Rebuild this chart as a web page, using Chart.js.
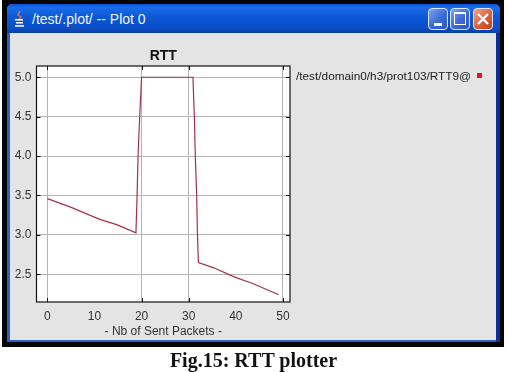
<!DOCTYPE html>
<html lang="en">
<head>
    <meta charset="UTF-8">
    <title>RTT plotter</title>
    <script src="https://cdn.jsdelivr.net/npm/chart.js"></script>
    <style>
        html, body { margin: 0; padding: 0; background: #fff; }
        #page { position: relative; width: 507px; height: 372px; overflow: hidden; }
        #frame { position: absolute; left: 2px; top: 0; width: 502px; height: 347px; background: #050505; }
        #window {
            position: absolute; left: 7px; top: 4px; width: 489px; height: 338px;
            background: #2a62c4; border-radius: 5px 5px 0 0;
        }
        #titlebar {
            position: absolute; left: 7px; top: 4px; width: 493px; height: 29px;
            border-radius: 5px 5px 0 0;
            background: linear-gradient(to bottom, #0a50d8 0%, #1a6ce8 12%, #0b57d6 45%, #0a50c8 80%, #0a3fa8 100%);
        }
        #rightEdge { position: absolute; left: 496px; top: 33px; width: 4px; height: 309px; background: #0a2f90; }
        #panel { position: absolute; left: 10px; top: 33px; width: 486px; height: 307px; background: #e4e4e4; }
        #wintitle {
            position: absolute; left: 32px; top: 11px;
            font: 14px "Liberation Sans", sans-serif; color: #f2f6ff; white-space: nowrap;
        }
        .btn {
            position: absolute; top: 8px; width: 20px; height: 22px; box-sizing: border-box;
            border: 1px solid #dfe8fa; border-radius: 4px;
            background: linear-gradient(135deg, #7fa4ee 0%, #3a69d8 55%, #2c55c8 100%);
        }
        .btn.close { background: linear-gradient(135deg, #eda58c 0%, #d9613a 55%, #b8401f 100%); }
        .btn i { position: absolute; display: block; background: #fff; }
        .btn.close svg { position: absolute; left: 2px; top: 3px; }
        #plot { position: absolute; left: 0; top: 0; }
        #legendText {
            position: absolute; left: 296px; top: 69px;
            font: 11.8px "Liberation Sans", sans-serif; color: #222; white-space: nowrap;
        }
        #legendBox { position: absolute; left: 477px; top: 73px; width: 5px; height: 5px; background: #ee1111; }
        #caption {
            position: absolute; left: 0; width: 507px; top: 349px; text-align: center;
            font: bold 20px "Liberation Serif", serif; color: #111;
        }
    </style>
</head>
<body>
<div id="page">
    <div id="frame"></div>
    <div id="window"></div>
    <div id="rightEdge"></div>
    <div id="titlebar"></div>
    <div id="panel"></div>

    <!-- java cup icon -->
    <svg style="position:absolute;left:13px;top:11px" width="13" height="17" viewBox="0 0 13 17">
        <path d="M7 0 L5 4 L8 6 L6 8" stroke="#e8703a" stroke-width="1.4" fill="none"/>
        <rect x="2" y="8" width="8" height="1.6" fill="#f3f3f3"/>
        <rect x="3" y="11" width="7" height="1.6" fill="#f3f3f3"/>
        <rect x="2" y="14" width="9" height="1.8" fill="#dfe6f5"/>
    </svg>
    <div id="wintitle">/test/.plot/ -- Plot 0</div>

    <div class="btn" style="left:428px"><i style="left:5px;top:14px;width:8px;height:3px"></i></div>
    <div class="btn" style="left:450px"><i style="left:3px;top:3px;width:12px;height:2px"></i>
        <i style="left:3px;top:5px;width:1px;height:10px"></i><i style="left:14px;top:5px;width:1px;height:10px"></i>
        <i style="left:3px;top:15px;width:12px;height:1px"></i></div>
    <div class="btn close" style="left:473px">
        <svg width="14" height="14"><path d="M2 2 L12 12 M12 2 L2 12" stroke="#fff" stroke-width="2.4"/></svg>
    </div>

    <canvas id="plot" width="507" height="372"></canvas>

    <div id="legendText">/test/domain0/h3/prot103/RTT9@</div>
    <div id="legendBox"></div>
    <div id="caption">Fig.15: RTT plotter</div>
</div>

<script>
    // readings along the trace
    const sentPackets = [0, 4.8, 11, 14.7, 18.8, 19.05, 19.25, 19.6, 20, 30.9, 31.2, 31.4, 31.7, 31.85, 32.05, 35.2, 39.5, 43.7, 49.1];
    const rttValues = [3.46, 3.355, 3.2, 3.13, 3.025, 3.5, 4.0, 4.5, 5.0, 5.0, 4.5, 4.0, 3.5, 3.03, 2.65, 2.585, 2.47, 2.38, 2.24];

    const xTicks = [0, 10, 20, 30, 40, 50];
    const yTicks = [2.5, 3.0, 3.5, 4.0, 4.5, 5.0];
    // the plotter leaves out the grid lines at 10 and 40
    const xGridded = [0, 20, 30, 50];

    const axisColor = '#111';
    const gridColor = '#b4b4b4';

    // white plot background, closed box and the small inward ticks
    const plotBox = {
        id: 'plotBox',
        beforeDraw(chart) {
            const { ctx, chartArea: a } = chart;
            ctx.save();
            ctx.fillStyle = '#fff';
            ctx.fillRect(a.left, a.top, a.width, a.height);
            ctx.restore();
        },
        afterDatasetsDraw(chart) {
            const { ctx, chartArea: a, scales } = chart;
            ctx.save();
            ctx.strokeStyle = axisColor;
            ctx.lineWidth = 1;
            ctx.beginPath();
            xGridded.forEach(v => {
                const x = Math.round(scales.x.getPixelForValue(v)) + 0.5;
                ctx.moveTo(x, a.top); ctx.lineTo(x, a.top + 4);
                ctx.moveTo(x, a.bottom); ctx.lineTo(x, a.bottom - 4);
            });
            yTicks.forEach(v => {
                const y = Math.round(scales.y.getPixelForValue(v)) + 0.5;
                ctx.moveTo(a.left, y); ctx.lineTo(a.left + 4, y);
                ctx.moveTo(a.right, y); ctx.lineTo(a.right - 4, y);
            });
            ctx.stroke();
            ctx.lineWidth = 1.2;
            ctx.strokeRect(a.left, a.top, a.width, a.height);
            ctx.restore();
        }
    };

    new Chart(document.getElementById('plot'), {
        type: 'line',
        data: {
            datasets: [{
                label: '/test/domain0/h3/prot103/RTT9@',
                data: sentPackets.map((x, i) => ({ x: x, y: rttValues[i] })),
                borderColor: '#a63048',
                borderWidth: 1.2,
                pointRadius: 0,
                tension: 0,
                fill: false
            }]
        },
        plugins: [plotBox],
        options: {
            responsive: false,
            animation: false,
            layout: { padding: { left: 0, right: 217, top: 0, bottom: 33 } },
            plugins: {
                legend: { display: false },
                tooltip: { enabled: false },
                title: {
                    display: true,
                    text: 'RTT',
                    fullSize: false,
                    color: '#111',
                    font: { family: '"Liberation Sans", sans-serif', size: 14, weight: 'bold', lineHeight: 1.2 },
                    padding: { top: 48, bottom: 1.2 }
                }
            },
            scales: {
                x: {
                    type: 'linear',
                    min: -2.3,
                    max: 51.5,
                    afterBuildTicks: s => { s.ticks = xTicks.map(v => ({ value: v })); },
                    afterFit: s => { s.height = 37; },
                    grid: {
                        drawTicks: false,
                        color: c => (c.tick && xGridded.includes(c.tick.value)) ? gridColor : 'rgba(0,0,0,0)'
                    },
                    border: { display: false },
                    ticks: {
                        autoSkip: false,
                        maxRotation: 0,
                        padding: 7,
                        color: '#333',
                        font: { family: '"Liberation Sans", sans-serif', size: 12 }
                    },
                    title: {
                        display: true,
                        text: '- Nb of Sent Packets -',
                        color: '#333',
                        font: { family: '"Liberation Sans", sans-serif', size: 12 },
                        padding: { top: 2, bottom: 0 }
                    }
                },
                y: {
                    min: 2.148,
                    max: 5.143,
                    afterBuildTicks: s => { s.ticks = yTicks.map(v => ({ value: v })); },
                    afterFit: s => { s.width = 36.5; },
                    grid: { drawTicks: false, color: gridColor },
                    border: { display: false },
                    ticks: {
                        padding: 5,
                        color: '#333',
                        font: { family: '"Liberation Sans", sans-serif', size: 12 },
                        callback: v => v.toFixed(1)
                    }
                }
            }
        }
    });
</script>
</body>
</html>
